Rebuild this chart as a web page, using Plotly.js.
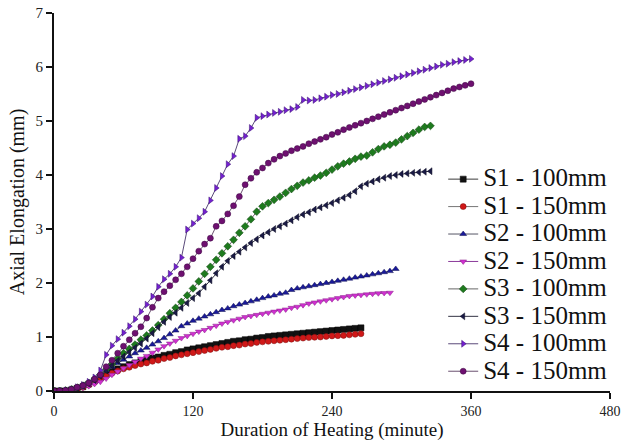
<!DOCTYPE html>
<html>
<head>
<meta charset="utf-8">
<script src="https://cdn.plot.ly/plotly-3.0.1.min.js"></script>
<style>
  html, body { margin: 0; padding: 0; background: #fff; }
  #chart { width: 625px; height: 441px; }
</style>
</head>
<body>
<div id="chart"></div>
<script>
// Axial elongation readings, sampled every 5 minutes of heating
const step = 5;

const s1_100 = [0, 0, 0, 0.02, 0.05, 0.08, 0.13, 0.19, 0.25, 0.31, 0.36, 0.41, 0.45, 0.49, 0.52, 0.55, 0.58, 0.61, 0.63, 0.66,
  0.68, 0.71, 0.73, 0.76, 0.78, 0.8, 0.82, 0.84, 0.86, 0.88, 0.9, 0.92, 0.93, 0.95, 0.96, 0.98, 0.99, 1.01, 1.02, 1.03,
  1.04, 1.05, 1.06, 1.07, 1.08, 1.09, 1.1, 1.11, 1.12, 1.13, 1.14, 1.15, 1.16, 1.17];

const s1_150 = [0, 0, 0, 0.02, 0.04, 0.07, 0.11, 0.16, 0.22, 0.28, 0.33, 0.37, 0.41, 0.44, 0.47, 0.5, 0.52, 0.55, 0.57, 0.6,
  0.62, 0.65, 0.67, 0.69, 0.71, 0.73, 0.75, 0.77, 0.79, 0.81, 0.82, 0.84, 0.85, 0.87, 0.88, 0.9, 0.91, 0.92, 0.93, 0.94,
  0.95, 0.96, 0.97, 0.98, 0.99, 0.995, 1.0, 1.01, 1.02, 1.025, 1.03, 1.04, 1.05, 1.06];

const s2_100 = [0, 0, 0.01, 0.03, 0.06, 0.1, 0.15, 0.22, 0.3, 0.38, 0.45, 0.52, 0.58, 0.64, 0.7, 0.75, 0.8, 0.86, 0.92, 0.98,
  1.05, 1.12, 1.2, 1.25, 1.3, 1.34, 1.38, 1.42, 1.46, 1.5, 1.53, 1.57, 1.6, 1.63, 1.66, 1.69, 1.72, 1.75, 1.77, 1.8,
  1.82, 1.87, 1.9, 1.92, 1.94, 1.96, 1.98, 2.0, 2.02, 2.04, 2.06, 2.08, 2.1, 2.12, 2.14, 2.16, 2.18, 2.2, 2.22, 2.26];

const s2_150 = [0, 0, 0, 0.01, 0.03, 0.06, 0.09, 0.13, 0.17, 0.23, 0.3, 0.36, 0.42, 0.48, 0.54, 0.6, 0.65, 0.71, 0.77, 0.83,
  0.88, 0.93, 0.98, 1.02, 1.06, 1.1, 1.13, 1.17, 1.21, 1.25, 1.28, 1.31, 1.34, 1.37, 1.39, 1.41, 1.43, 1.45, 1.47, 1.49,
  1.51, 1.54, 1.56, 1.59, 1.62, 1.64, 1.66, 1.68, 1.7, 1.72, 1.74, 1.76, 1.77, 1.78, 1.79, 1.8, 1.81, 1.815, 1.82];

const s3_100 = [0, 0, 0.01, 0.03, 0.06, 0.1, 0.15, 0.22, 0.3, 0.4, 0.5, 0.6, 0.7, 0.78, 0.86, 0.95, 1.03, 1.12, 1.22, 1.33,
  1.44, 1.54, 1.65, 1.77, 1.9, 2.03, 2.17, 2.3, 2.43, 2.55, 2.68, 2.8, 2.93, 3.05, 3.18, 3.32, 3.42, 3.48, 3.54, 3.6,
  3.67, 3.74, 3.8, 3.86, 3.9, 3.95, 3.99, 4.04, 4.1, 4.16, 4.21, 4.25, 4.3, 4.34, 4.36, 4.42, 4.48, 4.53, 4.56, 4.6,
  4.66, 4.72, 4.78, 4.84, 4.89, 4.91];

const s3_150 = [0, 0, 0.01, 0.03, 0.06, 0.1, 0.14, 0.2, 0.28, 0.38, 0.47, 0.56, 0.64, 0.72, 0.8, 0.88, 0.97, 1.07, 1.18, 1.28,
  1.37, 1.45, 1.54, 1.63, 1.72, 1.81, 1.93, 2.05, 2.18, 2.3, 2.41, 2.5, 2.58, 2.66, 2.74, 2.81, 2.88, 2.94, 3.0, 3.05,
  3.1, 3.16, 3.22, 3.27, 3.31, 3.36, 3.4, 3.44, 3.48, 3.53, 3.58, 3.63, 3.7, 3.79, 3.84, 3.88, 3.92, 3.95, 3.98, 4.0,
  4.02, 4.03, 4.04, 4.05, 4.06, 4.07];

const s4_100 = [0, 0, 0.01, 0.03, 0.07, 0.11, 0.17, 0.25, 0.38, 0.67, 0.84, 0.96, 1.08, 1.2, 1.33, 1.47, 1.6, 1.75, 1.93, 2.07,
  2.17, 2.3, 2.47, 2.99, 3.1, 3.2, 3.32, 3.53, 3.76, 3.98, 4.2, 4.35, 4.67, 4.72, 4.87, 5.06, 5.09, 5.12, 5.15, 5.17,
  5.2, 5.22, 5.26, 5.39, 5.38, 5.39, 5.42, 5.45, 5.48, 5.5, 5.53, 5.56, 5.59, 5.62, 5.65, 5.68, 5.71, 5.74, 5.77, 5.8,
  5.83, 5.86, 5.89, 5.92, 5.95, 5.98, 6.01, 6.04, 6.06, 6.09, 6.11, 6.13, 6.15];

const s4_150 = [0, 0, 0.01, 0.03, 0.07, 0.1, 0.15, 0.22, 0.3, 0.45, 0.57, 0.7, 0.83, 0.95, 1.07, 1.19, 1.35, 1.55, 1.72, 1.84,
  1.95, 2.06, 2.17, 2.3, 2.45, 2.59, 2.72, 2.83, 3.05, 3.15, 3.28, 3.43, 3.6, 3.82, 3.94, 4.05, 4.13, 4.22, 4.29, 4.35,
  4.4, 4.45, 4.49, 4.53, 4.58, 4.62, 4.66, 4.7, 4.75, 4.79, 4.84, 4.88, 4.92, 4.96, 5.0, 5.04, 5.08, 5.12, 5.16, 5.2,
  5.24, 5.28, 5.32, 5.36, 5.4, 5.44, 5.48, 5.52, 5.56, 5.6, 5.63, 5.66, 5.69];

const seriesNames = ['S1 - 100mm', 'S1 - 150mm', 'S2 - 100mm', 'S2 - 150mm',
  'S3 - 100mm', 'S3 - 150mm', 'S4 - 100mm', 'S4 - 150mm'];
const seriesValues = [s1_100, s1_150, s2_100, s2_150, s3_100, s3_150, s4_100, s4_150];

const xTicks = [0, 120, 240, 360, 480];
const yTicks = [0, 1, 2, 3, 4, 5, 6, 7];

// marker look per series
const styles = [
  { symbol: 'square', fill: '#111111', edge: '#000000', line: '#3a3a3a' },
  { symbol: 'circle', fill: '#d01818', edge: '#7a1010', line: '#777777' },
  { symbol: 'triangle-up', fill: '#1a1a9a', edge: '#101050', line: '#555566' },
  { symbol: 'triangle-down', fill: '#d030d0', edge: '#8a208a', line: '#8a3a9a' },
  { symbol: 'diamond', fill: '#1e7a1e', edge: '#104010', line: '#666666' },
  { symbol: 'triangle-left', fill: '#1a1a45', edge: '#0a0a20', line: '#333344' },
  { symbol: 'triangle-right', fill: '#7420d0', edge: '#3a1070', line: '#5a4a7a' },
  { symbol: 'circle', fill: '#6e1070', edge: '#3a0840', line: '#6a5070' }
];

const serif = '"Liberation Serif", "DejaVu Serif", serif';

const traces = seriesValues.map((vals, i) => ({
  type: 'scatter',
  mode: 'lines+markers',
  name: '<span style="font-size:25px">' + seriesNames[i] + '</span>',
  x: vals.map((_, k) => k * step),
  y: vals,
  line: { color: styles[i].line, width: 1 },
  marker: {
    symbol: styles[i].symbol,
    size: 6,
    color: styles[i].fill,
    line: { color: styles[i].edge, width: 0.5 }
  }
}));

const layout = {
  width: 625,
  height: 441,
  margin: { l: 54, r: 12, t: 13, b: 50 },
  paper_bgcolor: '#ffffff',
  plot_bgcolor: '#ffffff',
  font: { family: serif, color: '#111' },
  showlegend: true,
  legend: {
    x: 0.70, y: 0.61, xanchor: 'left', yanchor: 'top',
    bgcolor: 'rgba(0,0,0,0)',
    font: { family: serif, size: 18.8, color: '#111' },
    itemwidth: 30,
    tracegroupgap: 0
  },
  xaxis: {
    range: [0, 480],
    tickvals: xTicks,
    ticktext: xTicks.map(String),
    showgrid: false,
    zeroline: false,
    showline: true,
    linecolor: '#111',
    linewidth: 2,
    ticks: 'outside',
    ticklen: 6,
    tickwidth: 1.5,
    tickcolor: '#111',
    tickfont: { family: serif, size: 14, color: '#222' },
    automargin: false,
    title: { text: 'Duration of Heating (minute)', font: { family: serif, size: 19, color: '#111' } }
  },
  yaxis: {
    range: [0, 7],
    tickvals: yTicks,
    ticktext: yTicks.map(String),
    showgrid: false,
    zeroline: false,
    showline: true,
    linecolor: '#111',
    linewidth: 2,
    ticks: 'outside',
    ticklen: 6,
    tickwidth: 1.5,
    tickcolor: '#111',
    tickfont: { family: serif, size: 15, color: '#222' },
    title: { text: 'Axial Elongation (mm)', font: { family: serif, size: 20, color: '#111' }, standoff: 6 }
  }
};

Plotly.newPlot('chart', traces, layout, { displayModeBar: false, staticPlot: true });
</script>
</body>
</html>
